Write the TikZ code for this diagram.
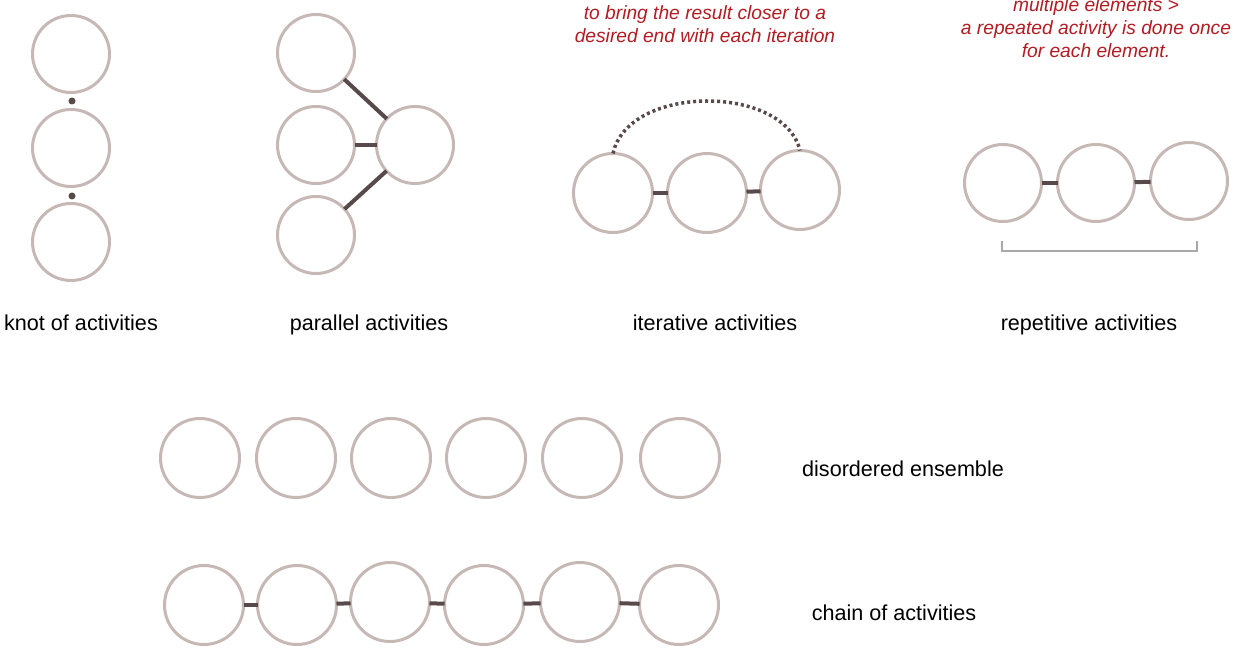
\documentclass[tikz,border=0pt]{standalone}
\usepackage{fontspec}
\setmainfont{Liberation Sans}
\definecolor{ringc}{RGB}{198,184,180}
\definecolor{linkc}{RGB}{88,74,74}
\definecolor{notec}{RGB}{178,28,34}
\definecolor{brkc}{RGB}{168,168,168}
\begin{document}
\begin{tikzpicture}[x=1pt,y=-1pt,
  ring/.style={circle, draw=ringc, line width=3pt, minimum size=77pt, inner sep=0pt, outer sep=0pt},
  link/.style={draw=linkc, line width=4pt},
  dotlink/.style={draw=linkc, line width=3.5pt, dash pattern=on 3pt off 3pt},
  knotdot/.style={circle, fill=linkc, minimum size=7pt, inner sep=0pt},
  lab/.style={font=\fontsize{21.6}{26}\selectfont, anchor=base, inner sep=0pt},
  note/.style={font=\fontsize{19.2}{23}\selectfont\itshape, text=notec, anchor=base, inner sep=0pt},
  bracket/.style={draw=brkc, line width=2pt}]
\path[use as bounding box] (0,0) rectangle (1233,652);

% knot of activities
\node[ring] (k1) at (71,54) {};
\node[ring] (k2) at (71,148) {};
\node[ring] (k3) at (71,242) {};
\node[knotdot] (kd1) at (72,101) {};
\node[knotdot] (kd2) at (72,196) {};
\node[lab] (klab) at (81,330) {knot of activities};

% parallel activities
\node[ring] (p1) at (316,53) {};
\node[ring] (p2) at (316,145) {};
\node[ring] (p3) at (316,235) {};
\node[ring] (p4) at (415,145) {};
\draw[link] (p1) -- (p4);
\draw[link] (p2) -- (p4);
\draw[link] (p3) -- (p4);
\node[lab] (plab) at (369,330) {parallel activities};

% iterative activities
\node[ring, minimum size=79pt] (i1) at (613,193) {};
\node[ring, minimum size=79pt] (i2) at (707,193) {};
\node[ring, minimum size=79pt] (i3) at (800,190) {};
\draw[link] (i1) -- (i2);
\draw[link] (i2) -- (i3);
\draw[dotlink] (i1.north) .. controls (628,84) and (784,84) .. (i3.north);
\node[note] (in1) at (705,20) {to bring the result closer to a};
\node[note] (in2) at (705,43) {desired end with each iteration};
\node[lab] (ilab) at (715,330) {iterative activities};

% repetitive activities
\node[ring] (r1) at (1003,183) {};
\node[ring] (r2) at (1096,183) {};
\node[ring] (r3) at (1189,181) {};
\draw[link] (r1) -- (r2);
\draw[link] (r2) -- (r3);
\coordinate (b1) at (1002,241);
\coordinate (b2) at (1002,251);
\coordinate (b3) at (1197,251);
\coordinate (b4) at (1197,241);
\draw[bracket] (b1) -- (b2) -- (b3) -- (b4);
\node[note] (rn1) at (1096,12) {multiple elements >};
\node[note] (rn2) at (1096,35) {a repeated activity is done once};
\node[note] (rn3) at (1096,58) {for each element.};
\node[lab] (rlab) at (1089,330) {repetitive activities};

% disordered ensemble
\node[ring, minimum size=79pt] (d1) at (200,458) {};
\node[ring, minimum size=79pt] (d2) at (296,458) {};
\node[ring, minimum size=79pt] (d3) at (391,458) {};
\node[ring, minimum size=79pt] (d4) at (486,458) {};
\node[ring, minimum size=79pt] (d5) at (582,458) {};
\node[ring, minimum size=79pt] (d6) at (680,458) {};
\node[lab] (dlab) at (903,476) {disordered ensemble};

% chain of activities
\node[ring, minimum size=79pt] (c1) at (204,605) {};
\node[ring, minimum size=79pt] (c2) at (297,605) {};
\node[ring, minimum size=79pt] (c3) at (390,602) {};
\node[ring, minimum size=79pt] (c4) at (484,605) {};
\node[ring, minimum size=79pt] (c5) at (580,602) {};
\node[ring, minimum size=79pt] (c6) at (679,605) {};
\draw[link] (c1) -- (c2);
\draw[link] (c2) -- (c3);
\draw[link] (c3) -- (c4);
\draw[link] (c4) -- (c5);
\draw[link] (c5) -- (c6);
\node[lab] (clab) at (894,620) {chain of activities};
\end{tikzpicture}
\end{document}
